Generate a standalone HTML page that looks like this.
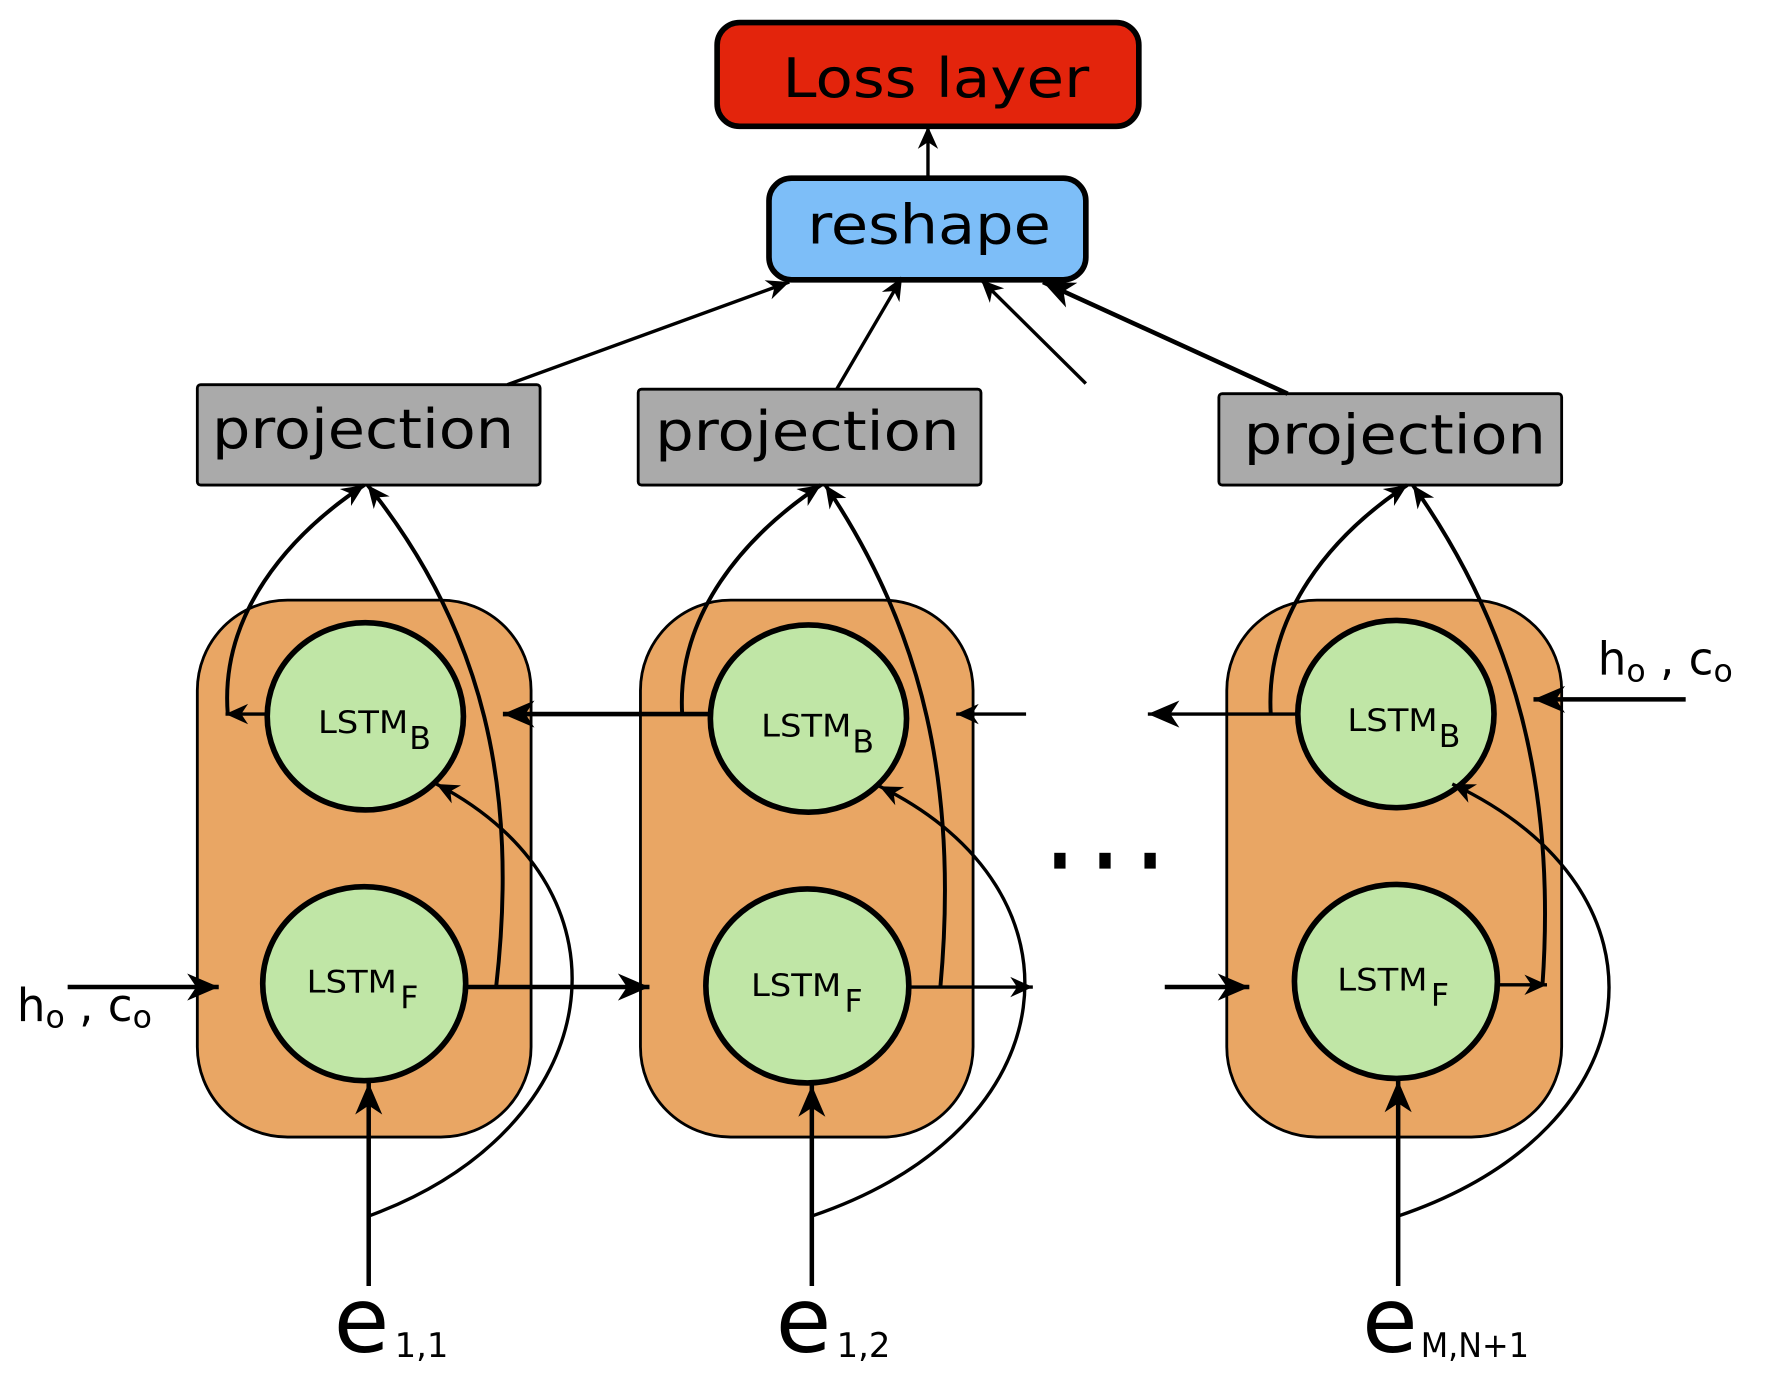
<!DOCTYPE html>
<html><head><meta charset="utf-8"><style>
html,body{margin:0;padding:0;background:#fff;width:1768px;height:1383px;overflow:hidden}
svg{display:block}
text{font-family:"DejaVu Sans","Liberation Sans",sans-serif;fill:#000}
</style></head><body>
<svg width="1768" height="1383" viewBox="0 0 1568 1226" preserveAspectRatio="none" xmlns="http://www.w3.org/2000/svg">
<defs>
<marker id="b" viewBox="-30 -14 32 28" refX="0" refY="0" markerWidth="32" markerHeight="28" orient="auto" markerUnits="userSpaceOnUse">
<path d="M0,0 L-28,-12 L-20,0 L-28,12 z" fill="#000"/>
</marker>
<marker id="s" viewBox="-22 -10 24 20" refX="0" refY="0" markerWidth="24" markerHeight="20" orient="auto" markerUnits="userSpaceOnUse">
<path d="M0,0 L-20,-9 L-14,0 L-20,9 z" fill="#000"/>
</marker>
</defs>
<g stroke="#000" fill="none">
<rect x="636" y="20" width="374" height="92" rx="20" fill="#e3240c" stroke-width="5"/>
<rect x="682" y="158" width="281" height="90" rx="20" fill="#7dbef8" stroke-width="5"/>
<line x1="823" y1="158" x2="823" y2="112" stroke-width="3" marker-end="url(#s)"/>
<rect x="175" y="341" width="304" height="89" rx="3" fill="#aaaaaa" stroke-width="2.5"/>
<rect x="566" y="345" width="304" height="85" rx="3" fill="#aaaaaa" stroke-width="2.5"/>
<rect x="1081" y="349" width="304" height="81" rx="3" fill="#aaaaaa" stroke-width="2.5"/>
<line x1="450" y1="341" x2="700" y2="250" stroke-width="3" marker-end="url(#s)"/>
<line x1="742" y1="345" x2="800" y2="246" stroke-width="3" marker-end="url(#s)"/>
<line x1="963" y1="340" x2="870" y2="248" stroke-width="3" marker-end="url(#s)"/>
<line x1="1142" y1="349" x2="925" y2="250" stroke-width="4" marker-end="url(#b)"/>
<rect x="175" y="532" width="296" height="476" rx="80" fill="#e9a664" stroke-width="2.5"/>
<rect x="568" y="532" width="295" height="476" rx="80" fill="#e9a664" stroke-width="2.5"/>
<rect x="1088" y="532" width="297" height="476" rx="80" fill="#e9a664" stroke-width="2.5"/>
<ellipse cx="324" cy="635" rx="87" ry="83" fill="#c0e6a6" stroke-width="5"/>
<ellipse cx="717" cy="637" rx="87" ry="83" fill="#c0e6a6" stroke-width="5"/>
<ellipse cx="1238" cy="633" rx="87" ry="83" fill="#c0e6a6" stroke-width="5"/>
<ellipse cx="323" cy="872" rx="90" ry="86" fill="#c0e6a6" stroke-width="5"/>
<ellipse cx="716" cy="874" rx="90" ry="86" fill="#c0e6a6" stroke-width="5"/>
<ellipse cx="1238" cy="870" rx="90" ry="86" fill="#c0e6a6" stroke-width="5"/>
<line x1="327" y1="1140" x2="327" y2="960" stroke-width="4" marker-end="url(#b)"/>
<path d="M327,1078 C540,1000 570,790 387,695" stroke-width="3" marker-end="url(#s)"/>
<path d="M237,633 L200,633" stroke-width="3" marker-end="url(#s)"/>
<path d="M202,633 C195,545 255,475 323,430" stroke-width="3.5" marker-end="url(#s)"/>
<path d="M440,875 C460,700 430,560 326,430" stroke-width="3.5" marker-end="url(#s)"/>
<line x1="413" y1="875" x2="576" y2="875" stroke-width="4" marker-end="url(#b)"/>
<line x1="630" y1="633" x2="446" y2="633" stroke-width="4" marker-end="url(#b)"/>
<line x1="60" y1="875" x2="194" y2="875" stroke-width="4" marker-end="url(#b)"/>
<line x1="720" y1="1140" x2="720" y2="962" stroke-width="4" marker-end="url(#b)"/>
<path d="M720,1078 C950,1000 970,790 780,697" stroke-width="3" marker-end="url(#s)"/>
<path d="M605,633 C600,545 660,475 728,430" stroke-width="3.5" marker-end="url(#s)"/>
<path d="M834,875 C850,700 820,560 732,430" stroke-width="3.5" marker-end="url(#s)"/>
<line x1="806" y1="875" x2="916" y2="875" stroke-width="3" marker-end="url(#s)"/>
<line x1="910" y1="633" x2="848" y2="633" stroke-width="3" marker-end="url(#s)"/>
<line x1="1240" y1="1140" x2="1240" y2="958" stroke-width="4" marker-end="url(#b)"/>
<path d="M1240,1078 C1470,1000 1490,790 1288,695" stroke-width="3" marker-end="url(#s)"/>
<path d="M1127,633 C1122,545 1180,475 1248,430" stroke-width="3.5" marker-end="url(#s)"/>
<path d="M1368,873 C1380,700 1345,560 1253,430" stroke-width="3.5" marker-end="url(#s)"/>
<line x1="1328" y1="873" x2="1372" y2="873" stroke-width="3" marker-end="url(#s)"/>
<line x1="1150" y1="633" x2="1018" y2="633" stroke-width="3" marker-end="url(#b)"/>
<line x1="1033" y1="875" x2="1108" y2="875" stroke-width="4" marker-end="url(#b)"/>
<line x1="1495" y1="620" x2="1360" y2="620" stroke-width="4" marker-end="url(#b)"/>
</g>
<g stroke="none" fill="#000">
<rect x="935" y="756" width="10" height="14"/><rect x="975" y="756" width="10" height="14"/><rect x="1015" y="756" width="10" height="14"/>
</g>
<text x="694" y="86" font-size="48" textLength="272" lengthAdjust="spacingAndGlyphs">Loss layer</text>
<text x="716" y="216" font-size="48" textLength="216" lengthAdjust="spacingAndGlyphs">reshape</text>
<text x="188" y="397" font-size="48" textLength="268" lengthAdjust="spacingAndGlyphs">projection</text>
<text x="581" y="399" font-size="48" textLength="270" lengthAdjust="spacingAndGlyphs">projection</text>
<text x="1103" y="402" font-size="48" textLength="268" lengthAdjust="spacingAndGlyphs">projection</text>
<text x="282" y="650" font-size="28" textLength="80" lengthAdjust="spacingAndGlyphs">LSTM</text><text x="363" y="664" font-size="28">B</text>
<text x="675" y="653" font-size="28" textLength="80" lengthAdjust="spacingAndGlyphs">LSTM</text><text x="756" y="667" font-size="28">B</text>
<text x="1195" y="648" font-size="28" textLength="80" lengthAdjust="spacingAndGlyphs">LSTM</text><text x="1276" y="662" font-size="28">B</text>
<text x="272" y="880" font-size="28" textLength="80" lengthAdjust="spacingAndGlyphs">LSTM</text><text x="355" y="894" font-size="28">F</text>
<text x="666" y="883" font-size="28" textLength="80" lengthAdjust="spacingAndGlyphs">LSTM</text><text x="749" y="897" font-size="28">F</text>
<text x="1186" y="878" font-size="28" textLength="80" lengthAdjust="spacingAndGlyphs">LSTM</text><text x="1269" y="892" font-size="28">F</text>
<text x="15" y="905" font-size="40">h<tspan font-size="28" dy="6">o</tspan><tspan dy="-6"> , c</tspan><tspan font-size="28" dy="6">o</tspan></text>
<text x="1417" y="598" font-size="40">h<tspan font-size="28" dy="6">o</tspan><tspan dy="-6"> , c</tspan><tspan font-size="28" dy="6">o</tspan></text>
<text x="296" y="1198" font-size="80">e</text><text x="350" y="1203" font-size="30">1,1</text>
<text x="688" y="1198" font-size="80">e</text><text x="742" y="1203" font-size="30">1,2</text>
<text x="1208" y="1198" font-size="80">e</text><text x="1260" y="1203" font-size="30" textLength="96" lengthAdjust="spacingAndGlyphs">M,N+1</text>
</svg>
</body></html>
